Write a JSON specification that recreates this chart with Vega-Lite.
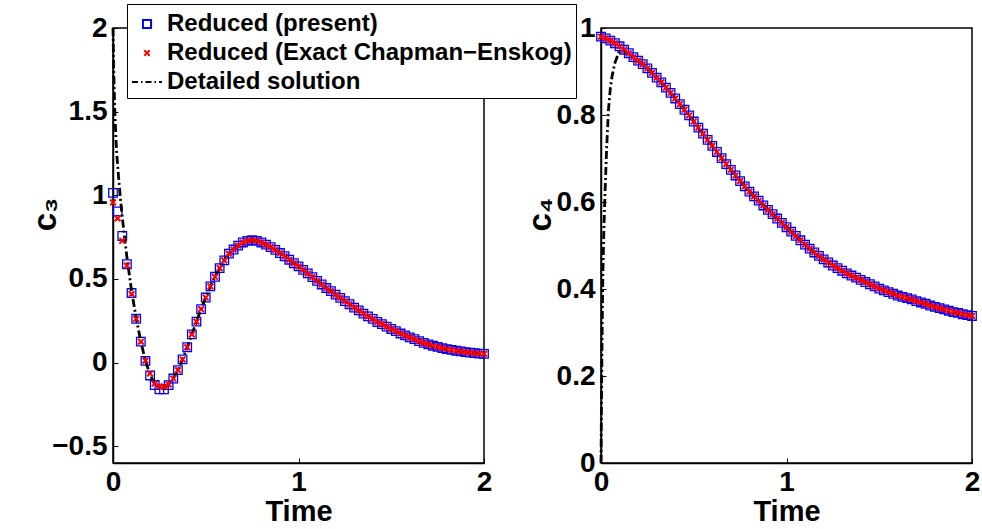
{
"$schema": "https://vega.github.io/schema/vega-lite/v6.json",
"background": "white",
"padding": {"left": 28, "top": 3, "right": 5, "bottom": 5},
"bounds": "flush",
"spacing": 117,
"config": {
  "font": "Liberation Sans",
  "view": {"stroke": "black", "strokeWidth": 1.5},
  "axis": {"labelFont": "Liberation Sans", "labelFontWeight": "bold", "labelFontSize": 28, "labelColor": "black", "titleFont": "Liberation Sans", "titleFontWeight": "bold", "titleFontSize": 29, "titleColor": "black", "domainColor": "black", "domainWidth": 1.5, "tickColor": "black", "tickSize": -5, "tickWidth": 1, "grid": false, "labelFlush": false, "labelOverlap": false, "format": "~g"},
  "axisX": {"labelPadding": 10, "titleY": 48, "titleBaseline": "middle"},
  "axisY": {"labelPadding": 11, "titleBaseline": "middle", "titleY": 186, "titleFontSize": 33},
  "legend": {"orient": "none", "legendX": 14, "legendY": -24, "title": null, "strokeColor": "black", "fillColor": "white", "padding": 4, "labelFont": "Liberation Sans", "labelFontWeight": "bold", "labelFontSize": 24, "labelColor": "black", "symbolSize": 900, "symbolStrokeWidth": 2, "rowPadding": 1, "labelOffset": 4, "labelLimit": 700, "symbolOpacity": 1}
},
"datasets": {
"markers": [
{"t":0,"c3p":1.015,"c3c":0.958,"c4p":0.98,"c4c":0.98},
{"t":0.025,"c3p":0.904,"c3c":0.862,"c4p":0.976,"c4c":0.976},
{"t":0.05,"c3p":0.757,"c3c":0.728,"c4p":0.971,"c4c":0.971},
{"t":0.075,"c3p":0.588,"c3c":0.58,"c4p":0.965,"c4c":0.965},
{"t":0.1,"c3p":0.416,"c3c":0.41,"c4p":0.958,"c4c":0.958},
{"t":0.125,"c3p":0.262,"c3c":0.262,"c4p":0.95,"c4c":0.95},
{"t":0.15,"c3p":0.125,"c3c":0.125,"c4p":0.942,"c4c":0.942},
{"t":0.175,"c3p":0.01,"c3c":0.012,"c4p":0.933,"c4c":0.933},
{"t":0.2,"c3p":-0.077,"c3c":-0.065,"c4p":0.925,"c4c":0.925},
{"t":0.225,"c3p":-0.134,"c3c":-0.125,"c4p":0.917,"c4c":0.917},
{"t":0.25,"c3p":-0.16,"c3c":-0.142,"c4p":0.907,"c4c":0.907},
{"t":0.275,"c3p":-0.16,"c3c":-0.145,"c4p":0.897,"c4c":0.897},
{"t":0.3,"c3p":-0.135,"c3c":-0.13,"c4p":0.886,"c4c":0.886},
{"t":0.325,"c3p":-0.095,"c3c":-0.095,"c4p":0.875,"c4c":0.875},
{"t":0.35,"c3p":-0.045,"c3c":-0.045,"c4p":0.863,"c4c":0.863},
{"t":0.375,"c3p":0.019,"c3c":0.019,"c4p":0.851,"c4c":0.851},
{"t":0.4,"c3p":0.092,"c3c":0.092,"c4p":0.838,"c4c":0.838},
{"t":0.425,"c3p":0.169,"c3c":0.169,"c4p":0.825,"c4c":0.825},
{"t":0.45,"c3p":0.245,"c3c":0.245,"c4p":0.812,"c4c":0.812},
{"t":0.475,"c3p":0.32,"c3c":0.32,"c4p":0.799,"c4c":0.799},
{"t":0.5,"c3p":0.389,"c3c":0.389,"c4p":0.785,"c4c":0.785},
{"t":0.525,"c3p":0.456,"c3c":0.456,"c4p":0.771,"c4c":0.771},
{"t":0.55,"c3p":0.513,"c3c":0.513,"c4p":0.757,"c4c":0.757},
{"t":0.575,"c3p":0.565,"c3c":0.565,"c4p":0.743,"c4c":0.743},
{"t":0.6,"c3p":0.611,"c3c":0.611,"c4p":0.729,"c4c":0.729},
{"t":0.625,"c3p":0.651,"c3c":0.651,"c4p":0.715,"c4c":0.715},
{"t":0.65,"c3p":0.676,"c3c":0.676,"c4p":0.701,"c4c":0.701},
{"t":0.675,"c3p":0.699,"c3c":0.699,"c4p":0.687,"c4c":0.687},
{"t":0.7,"c3p":0.718,"c3c":0.718,"c4p":0.674,"c4c":0.674},
{"t":0.725,"c3p":0.728,"c3c":0.728,"c4p":0.661,"c4c":0.661},
{"t":0.75,"c3p":0.732,"c3c":0.732,"c4p":0.648,"c4c":0.648},
{"t":0.775,"c3p":0.728,"c3c":0.728,"c4p":0.636,"c4c":0.636},
{"t":0.8,"c3p":0.718,"c3c":0.718,"c4p":0.624,"c4c":0.624},
{"t":0.825,"c3p":0.705,"c3c":0.705,"c4p":0.613,"c4c":0.613},
{"t":0.85,"c3p":0.69,"c3c":0.69,"c4p":0.603,"c4c":0.603},
{"t":0.875,"c3p":0.674,"c3c":0.674,"c4p":0.592,"c4c":0.592},
{"t":0.9,"c3p":0.655,"c3c":0.655,"c4p":0.582,"c4c":0.582},
{"t":0.925,"c3p":0.636,"c3c":0.636,"c4p":0.572,"c4c":0.572},
{"t":0.95,"c3p":0.615,"c3c":0.615,"c4p":0.562,"c4c":0.562},
{"t":0.975,"c3p":0.594,"c3c":0.594,"c4p":0.552,"c4c":0.552},
{"t":1.0,"c3p":0.575,"c3c":0.575,"c4p":0.542,"c4c":0.542},
{"t":1.025,"c3p":0.554,"c3c":0.554,"c4p":0.532,"c4c":0.532},
{"t":1.05,"c3p":0.533,"c3c":0.533,"c4p":0.522,"c4c":0.522},
{"t":1.075,"c3p":0.511,"c3c":0.511,"c4p":0.512,"c4c":0.512},
{"t":1.1,"c3p":0.489,"c3c":0.489,"c4p":0.502,"c4c":0.502},
{"t":1.125,"c3p":0.467,"c3c":0.467,"c4p":0.493,"c4c":0.493},
{"t":1.15,"c3p":0.446,"c3c":0.446,"c4p":0.484,"c4c":0.484},
{"t":1.175,"c3p":0.427,"c3c":0.427,"c4p":0.476,"c4c":0.476},
{"t":1.2,"c3p":0.406,"c3c":0.406,"c4p":0.468,"c4c":0.468},
{"t":1.225,"c3p":0.387,"c3c":0.387,"c4p":0.461,"c4c":0.461},
{"t":1.25,"c3p":0.368,"c3c":0.368,"c4p":0.454,"c4c":0.454},
{"t":1.275,"c3p":0.349,"c3c":0.349,"c4p":0.448,"c4c":0.448},
{"t":1.3,"c3p":0.329,"c3c":0.329,"c4p":0.442,"c4c":0.442},
{"t":1.325,"c3p":0.312,"c3c":0.312,"c4p":0.436,"c4c":0.436},
{"t":1.35,"c3p":0.293,"c3c":0.293,"c4p":0.431,"c4c":0.431},
{"t":1.375,"c3p":0.276,"c3c":0.276,"c4p":0.426,"c4c":0.426},
{"t":1.4,"c3p":0.261,"c3c":0.261,"c4p":0.421,"c4c":0.421},
{"t":1.425,"c3p":0.243,"c3c":0.243,"c4p":0.416,"c4c":0.416},
{"t":1.45,"c3p":0.23,"c3c":0.23,"c4p":0.411,"c4c":0.411},
{"t":1.475,"c3p":0.215,"c3c":0.215,"c4p":0.406,"c4c":0.406},
{"t":1.5,"c3p":0.201,"c3c":0.201,"c4p":0.401,"c4c":0.401},
{"t":1.525,"c3p":0.188,"c3c":0.188,"c4p":0.397,"c4c":0.397},
{"t":1.55,"c3p":0.174,"c3c":0.174,"c4p":0.393,"c4c":0.393},
{"t":1.575,"c3p":0.163,"c3c":0.163,"c4p":0.389,"c4c":0.389},
{"t":1.6,"c3p":0.151,"c3c":0.151,"c4p":0.385,"c4c":0.385},
{"t":1.625,"c3p":0.14,"c3c":0.14,"c4p":0.382,"c4c":0.382},
{"t":1.65,"c3p":0.128,"c3c":0.128,"c4p":0.379,"c4c":0.379},
{"t":1.675,"c3p":0.118,"c3c":0.118,"c4p":0.376,"c4c":0.376},
{"t":1.7,"c3p":0.109,"c3c":0.109,"c4p":0.372,"c4c":0.372},
{"t":1.725,"c3p":0.101,"c3c":0.101,"c4p":0.369,"c4c":0.369},
{"t":1.75,"c3p":0.094,"c3c":0.094,"c4p":0.366,"c4c":0.366},
{"t":1.775,"c3p":0.087,"c3c":0.087,"c4p":0.362,"c4c":0.362},
{"t":1.8,"c3p":0.081,"c3c":0.081,"c4p":0.359,"c4c":0.359},
{"t":1.825,"c3p":0.076,"c3c":0.076,"c4p":0.356,"c4c":0.356},
{"t":1.85,"c3p":0.071,"c3c":0.071,"c4p":0.353,"c4c":0.353},
{"t":1.875,"c3p":0.067,"c3c":0.067,"c4p":0.35,"c4c":0.35},
{"t":1.9,"c3p":0.063,"c3c":0.063,"c4p":0.347,"c4c":0.347},
{"t":1.925,"c3p":0.06,"c3c":0.06,"c4p":0.345,"c4c":0.345},
{"t":1.95,"c3p":0.057,"c3c":0.057,"c4p":0.342,"c4c":0.342},
{"t":1.975,"c3p":0.054,"c3c":0.054,"c4p":0.34,"c4c":0.34},
{"t":2.0,"c3p":0.052,"c3c":0.052,"c4p":0.338,"c4c":0.338}
],
"detailed": [
{"t":0,"c3":2.0,"c4":0},
{"t":0.003,"c3":1.8,"c4":0.16},
{"t":0.006,"c3":1.65,"c4":0.3},
{"t":0.01,"c3":1.5,"c4":0.43},
{"t":0.015,"c3":1.36,"c4":0.53},
{"t":0.02,"c3":1.25,"c4":0.6},
{"t":0.03,"c3":1.11,"c4":0.72},
{"t":0.04,"c3":0.98,"c4":0.81},
{"t":0.05,"c3":0.87,"c4":0.86},
{"t":0.06,"c3":0.77,"c4":0.89},
{"t":0.075,"c3":0.63,"c4":0.92},
{"t":0.1,"c3":0.43,"c4":0.948},
{"t":0.125,"c3":0.265,"c4":0.947},
{"t":0.15,"c3":0.126,"c4":0.942},
{"t":0.175,"c3":0.01,"c4":0.933},
{"t":0.2,"c3":-0.072,"c4":0.925},
{"t":0.225,"c3":-0.13,"c4":0.917},
{"t":0.25,"c3":-0.152,"c4":0.907},
{"t":0.275,"c3":-0.153,"c4":0.897},
{"t":0.3,"c3":-0.132,"c4":0.886},
{"t":0.325,"c3":-0.095,"c4":0.875},
{"t":0.35,"c3":-0.045,"c4":0.863},
{"t":0.375,"c3":0.019,"c4":0.851},
{"t":0.4,"c3":0.092,"c4":0.838},
{"t":0.425,"c3":0.169,"c4":0.825},
{"t":0.45,"c3":0.245,"c4":0.812},
{"t":0.475,"c3":0.32,"c4":0.799},
{"t":0.5,"c3":0.389,"c4":0.785},
{"t":0.525,"c3":0.456,"c4":0.771},
{"t":0.55,"c3":0.513,"c4":0.757},
{"t":0.575,"c3":0.565,"c4":0.743},
{"t":0.6,"c3":0.611,"c4":0.729},
{"t":0.625,"c3":0.651,"c4":0.715},
{"t":0.65,"c3":0.676,"c4":0.701},
{"t":0.675,"c3":0.699,"c4":0.687},
{"t":0.7,"c3":0.718,"c4":0.674},
{"t":0.725,"c3":0.728,"c4":0.661},
{"t":0.75,"c3":0.732,"c4":0.648},
{"t":0.775,"c3":0.728,"c4":0.636},
{"t":0.8,"c3":0.718,"c4":0.624},
{"t":0.825,"c3":0.705,"c4":0.613},
{"t":0.85,"c3":0.69,"c4":0.603},
{"t":0.875,"c3":0.674,"c4":0.592},
{"t":0.9,"c3":0.655,"c4":0.582},
{"t":0.925,"c3":0.636,"c4":0.572},
{"t":0.95,"c3":0.615,"c4":0.562},
{"t":0.975,"c3":0.594,"c4":0.552},
{"t":1.0,"c3":0.575,"c4":0.542},
{"t":1.05,"c3":0.533,"c4":0.522},
{"t":1.1,"c3":0.489,"c4":0.502},
{"t":1.15,"c3":0.446,"c4":0.484},
{"t":1.2,"c3":0.406,"c4":0.468},
{"t":1.25,"c3":0.368,"c4":0.454},
{"t":1.3,"c3":0.329,"c4":0.442},
{"t":1.35,"c3":0.293,"c4":0.431},
{"t":1.4,"c3":0.261,"c4":0.421},
{"t":1.45,"c3":0.23,"c4":0.411},
{"t":1.5,"c3":0.201,"c4":0.401},
{"t":1.55,"c3":0.174,"c4":0.393},
{"t":1.6,"c3":0.151,"c4":0.385},
{"t":1.65,"c3":0.128,"c4":0.379},
{"t":1.7,"c3":0.109,"c4":0.372},
{"t":1.75,"c3":0.094,"c4":0.366},
{"t":1.8,"c3":0.081,"c4":0.359},
{"t":1.85,"c3":0.071,"c4":0.353},
{"t":1.9,"c3":0.063,"c4":0.347},
{"t":1.95,"c3":0.057,"c4":0.342},
{"t":2.0,"c3":0.052,"c4":0.338}
]
},
"hconcat": [
{
  "width": 371, "height": 435,
  "layer": [
    {"data": {"name": "markers"},
     "mark": {"type": "point", "filled": false, "size": 1000, "strokeWidth": 1.3, "opacity": 1, "clip": false},
     "encoding": {
       "x": {"field": "t", "type": "quantitative", "scale": {"domain": [0, 2]}, "axis": {"values": [0, 1, 2], "title": "Time"}},
       "y": {"field": "c3p", "type": "quantitative", "scale": {"domain": [-0.5, 2]}, "axis": {"values": [-0.5, 0, 0.5, 1, 1.5, 2], "title": "c₃", "titleX": -68}},
       "color": {"datum": "Reduced (present)", "type": "nominal", "scale": {"domain": ["Reduced (present)", "Reduced (Exact Chapman−Enskog)", "Detailed solution"], "range": ["#0000ff", "#ff0000", "#000000"]}},
       "shape": {"datum": "Reduced (present)", "type": "nominal", "scale": {"domain": ["Reduced (present)", "Reduced (Exact Chapman−Enskog)", "Detailed solution"], "range": ["M-0.27,-0.27H0.27V0.27H-0.27Z", "M-0.18,-0.18L0.18,0.18M-0.18,0.18L0.18,-0.18", "M-1,0H-0.6M-0.4,0H-0.3M-0.1,0H0.3M0.5,0H0.6M0.8,0H1"]}}
     }},
    {"data": {"name": "detailed"},
     "mark": {"type": "line", "color": "black", "strokeWidth": 2.8, "strokeDash": [8, 3, 2, 3], "clip": false},
     "encoding": {
       "x": {"field": "t", "type": "quantitative"},
       "y": {"field": "c3", "type": "quantitative"}
     }},
    {"data": {"name": "markers"},
     "mark": {"type": "point", "filled": false, "size": 1000, "strokeWidth": 2, "opacity": 1, "clip": false},
     "encoding": {
       "x": {"field": "t", "type": "quantitative"},
       "y": {"field": "c3c", "type": "quantitative"},
       "color": {"datum": "Reduced (Exact Chapman−Enskog)", "type": "nominal"},
       "shape": {"datum": "Reduced (Exact Chapman−Enskog)", "type": "nominal"}
     }}
  ]
},
{
  "width": 371, "height": 435,
  "layer": [
    {"data": {"name": "markers"},
     "mark": {"type": "point", "filled": false, "size": 1000, "strokeWidth": 1.3, "opacity": 1, "clip": false},
     "encoding": {
       "x": {"field": "t", "type": "quantitative", "scale": {"domain": [0, 2]}, "axis": {"values": [0, 1, 2], "title": "Time"}},
       "y": {"field": "c4p", "type": "quantitative", "scale": {"domain": [0, 1]}, "axis": {"values": [0, 0.2, 0.4, 0.6, 0.8, 1], "title": "c₄", "titleX": -61}},
       "color": {"datum": "Reduced (present)", "type": "nominal"},
       "shape": {"datum": "Reduced (present)", "type": "nominal"}
     }},
    {"data": {"name": "detailed"},
     "mark": {"type": "line", "color": "black", "strokeWidth": 2.8, "strokeDash": [8, 3, 2, 3], "clip": false},
     "encoding": {
       "x": {"field": "t", "type": "quantitative"},
       "y": {"field": "c4", "type": "quantitative"}
     }},
    {"data": {"name": "markers"},
     "mark": {"type": "point", "filled": false, "size": 1000, "strokeWidth": 2, "opacity": 1, "clip": false},
     "encoding": {
       "x": {"field": "t", "type": "quantitative"},
       "y": {"field": "c4c", "type": "quantitative"},
       "color": {"datum": "Reduced (Exact Chapman−Enskog)", "type": "nominal"},
       "shape": {"datum": "Reduced (Exact Chapman−Enskog)", "type": "nominal"}
     }}
  ]
}
]
}
